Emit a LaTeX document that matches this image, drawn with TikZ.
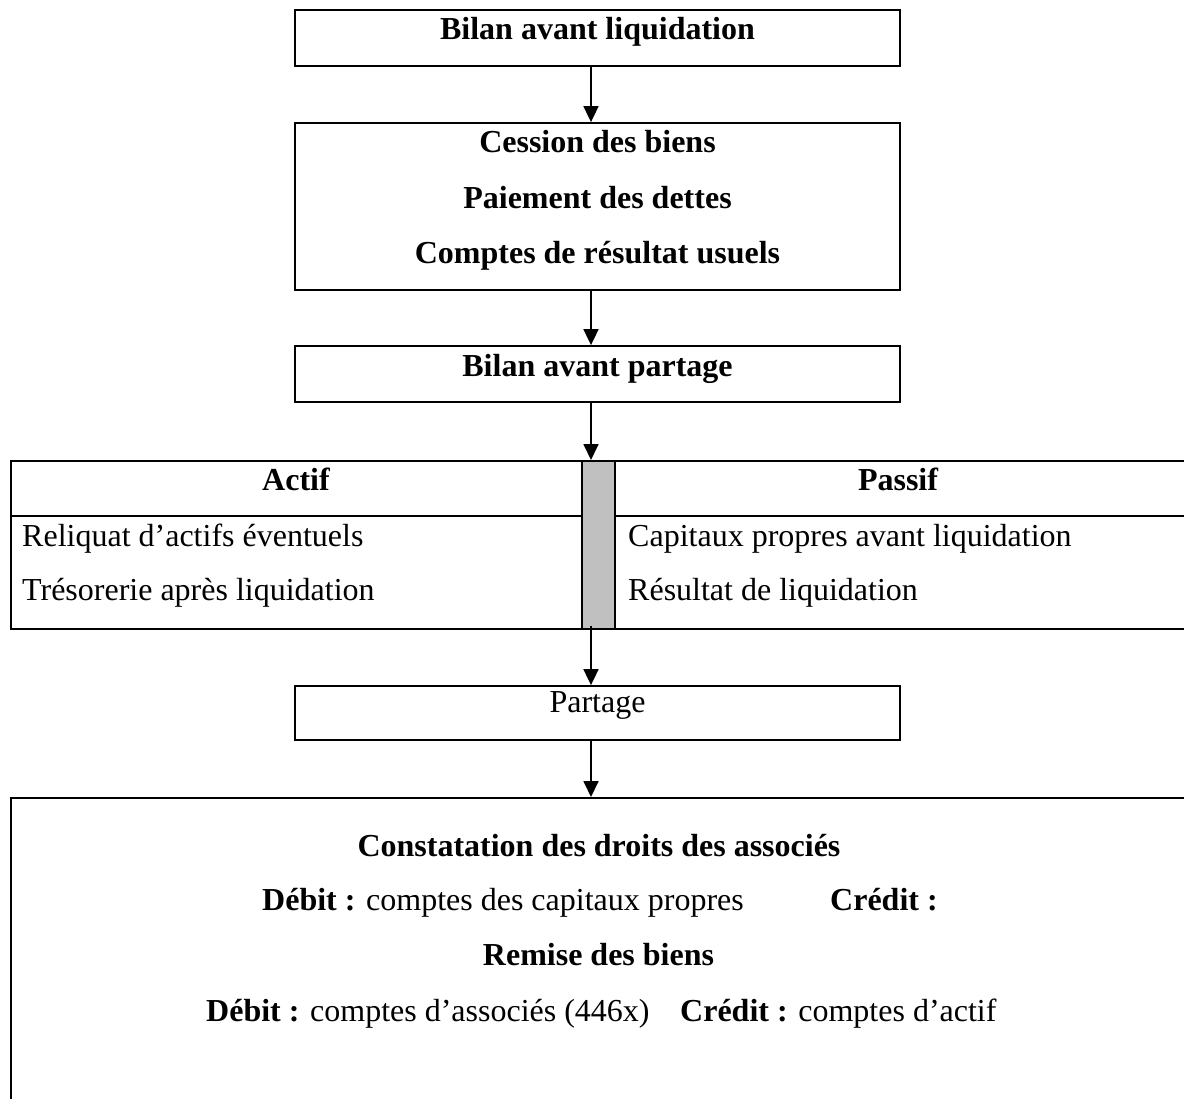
\documentclass[tikz,border=0pt]{standalone}
\usepackage{fontspec}
\setmainfont{Liberation Serif}
\usetikzlibrary{arrows.meta}
\definecolor{colgray}{RGB}{192,192,192}
\begin{document}
\begin{tikzpicture}[x=1pt,y=-1pt,
  box/.style={draw=black, line width=1.8pt, rectangle, inner sep=0pt, minimum width=605pt},
  txt/.style={inner sep=0pt, anchor=base},
  txtw/.style={inner sep=0pt, anchor=base west},
  arr/.style={draw=black, line width=1.8pt, -{Triangle[length=16pt,width=15pt]}},
  font=\fontsize{32}{38}\selectfont]
\useasboundingbox (0,0) rectangle (1184,1099);
\coordinate (ax) at (591,0);
% box 1
\node[box, minimum height=56pt] (b1) at (597.5,38) {};
\node[txt, font=\fontsize{32}{38}\selectfont\bfseries] (t1) at (597.5,40) {Bilan avant liquidation};
% box 2
\node[box, minimum height=167pt] (b2) at (597.5,206.5) {};
\node[txt, font=\fontsize{32}{38}\selectfont\bfseries] (t2a) at (597.5,153) {Cession des biens};
\node[txt, font=\fontsize{32}{38}\selectfont\bfseries] (t2b) at (597.5,209) {Paiement des dettes};
\node[txt, font=\fontsize{32}{38}\selectfont\bfseries] (t2c) at (597.5,264) {Comptes de résultat usuels};
% box 3
\node[box, minimum height=56pt] (b3) at (597.5,374) {};
\node[txt, font=\fontsize{32}{38}\selectfont\bfseries] (t3) at (597.5,377) {Bilan avant partage};
% table
\node[box, minimum width=1200pt, minimum height=168pt, anchor=north west] (tab) at (10,460) {};
\draw[line width=1.8pt] (10,516) -- (1210,516);
\node[draw=black, fill=colgray, line width=1.6pt, inner sep=0pt, minimum width=33pt, minimum height=168pt, anchor=north west] (gcol) at (581,460) {};
\node[txt, font=\fontsize{32}{38}\selectfont\bfseries] (actif) at (296,490) {Actif};
\node[txt, font=\fontsize{32}{38}\selectfont\bfseries] (passif) at (898,490) {Passif};
\node[txtw] (r1) at (22,546) {Reliquat d’actifs éventuels};
\node[txtw] (r2) at (22,600) {Trésorerie après liquidation};
\node[txtw] (p1) at (628,546) {Capitaux propres avant liquidation};
\node[txtw] (p2) at (628,600) {Résultat de liquidation};
% partage
\node[box, minimum height=54pt] (b4) at (597.5,713) {};
\node[txt] (t4) at (597.5,712) {Partage};
% bottom box
\node[box, minimum width=1200pt, minimum height=320pt, anchor=north west] (b5) at (10,797) {};
\node[txt, font=\fontsize{32}{38}\selectfont\bfseries] (t5a) at (599,856) {Constatation des droits des associés};
\node[txtw] (d1) at (262,910) {\textbf{Débit :} comptes des capitaux propres};
\node[txtw] (c1) at (830,910) {\textbf{Crédit :}};
\node[txt, font=\fontsize{32}{38}\selectfont\bfseries] (t5b) at (598.5,965) {Remise des biens};
\node[txtw] (d2) at (206,1021) {\textbf{Débit :} comptes d’associés (446x)};
\node[txtw] (c2) at (680,1021) {\textbf{Crédit :} comptes d’actif};
% arrows
\draw[arr] (b1.south -| ax) -- (b2.north -| ax);
\draw[arr] (b2.south -| ax) -- (b3.north -| ax);
\draw[arr] (b3.south -| ax) -- (tab.north -| ax);
\draw[arr] ([yshift=4pt]gcol.south -| ax) -- (b4.north -| ax);
\draw[arr] (b4.south -| ax) -- (b5.north -| ax);
\end{tikzpicture}
\end{document}
